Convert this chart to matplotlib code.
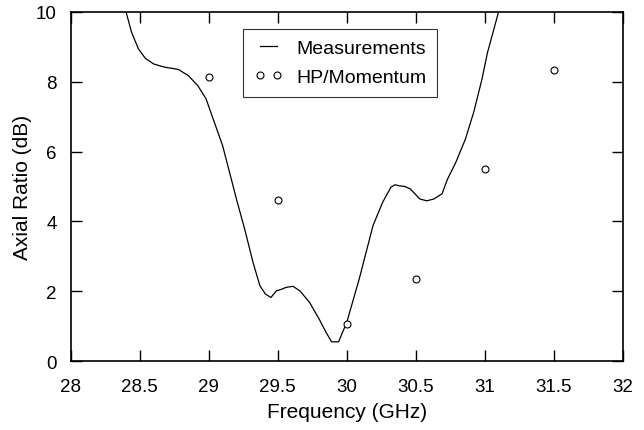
import numpy as np
import matplotlib
matplotlib.use("Agg")
import matplotlib.pyplot as plt

plt.rcParams['font.family'] = ['Liberation Sans', 'DejaVu Sans']

# measured axial ratio curve
meas_freq = [28.37, 28.40, 28.44, 28.49, 28.54, 28.60, 28.65, 28.69, 28.74, 28.78,
             28.85, 28.92, 28.98, 29.04, 29.10, 29.15, 29.20, 29.26, 29.32, 29.37,
             29.41, 29.45, 29.49, 29.53, 29.56, 29.61, 29.66, 29.73, 29.80, 29.85,
             29.89, 29.94, 30.00, 30.09, 30.19, 30.26, 30.32, 30.35, 30.38, 30.42,
             30.46, 30.53, 30.58, 30.63, 30.69, 30.73, 30.79, 30.86, 30.92, 30.98,
             31.02, 31.06, 31.10, 31.13]
meas_ar = [10.7, 10.0, 9.42, 8.94, 8.67, 8.51, 8.45, 8.41, 8.38, 8.35,
           8.18, 7.89, 7.51, 6.84, 6.17, 5.41, 4.64, 3.78, 2.83, 2.16,
           1.92, 1.82, 2.01, 2.06, 2.11, 2.14, 2.01, 1.68, 1.20, 0.82,
           0.55, 0.55, 1.11, 2.35, 3.88, 4.55, 4.98, 5.05, 5.02, 5.00,
           4.93, 4.64, 4.59, 4.64, 4.79, 5.21, 5.69, 6.36, 7.13, 8.08,
           8.84, 9.42, 10.0, 10.6]

# simulated points
sim_freq = [29.0, 29.5, 30.0, 30.5, 31.0, 31.5]
sim_ar = [8.15, 4.6, 1.05, 2.35, 5.5, 8.35]

fig = plt.figure(figsize=(6.44, 4.31), dpi=100)
ax = fig.add_axes([0.110, 0.160, 0.857, 0.810])

ax.plot(meas_freq, meas_ar, color='black', lw=0.9, label='Measurements')
ax.plot(sim_freq, sim_ar, ls='none', marker='o', ms=5, mfc='white',
        mec='black', mew=0.8, label='HP/Momentum')

ax.set_xlim(28, 32)
ax.set_ylim(0, 10)
ax.set_xticks(np.arange(28, 32.01, 0.5))
ax.set_xticklabels(['28', '28.5', '29', '29.5', '30', '30.5', '31', '31.5', '32'])
ax.set_yticks(np.arange(0, 10.1, 2))
ax.tick_params(direction='in', top=True, right=True, length=8, width=1,
               labelsize=13.5)
ax.tick_params(axis='x', pad=12)
ax.tick_params(axis='y', pad=10)
for s in ax.spines.values():
    s.set_linewidth(1.2)

ax.set_xlabel('Frequency (GHz)', fontsize=15, labelpad=5)
ax.set_ylabel('Axial Ratio (dB)', fontsize=15, labelpad=3)

leg = ax.legend(loc='upper left', bbox_to_anchor=(0.312, 0.952), numpoints=2,
                fontsize=14, frameon=True, fancybox=False, edgecolor='black',
                handlelength=1.5, handletextpad=0.7, borderpad=0.55,
                labelspacing=0.6, borderaxespad=0)
leg.get_frame().set_linewidth(0.8)

plt.savefig('out.png', dpi=100)
